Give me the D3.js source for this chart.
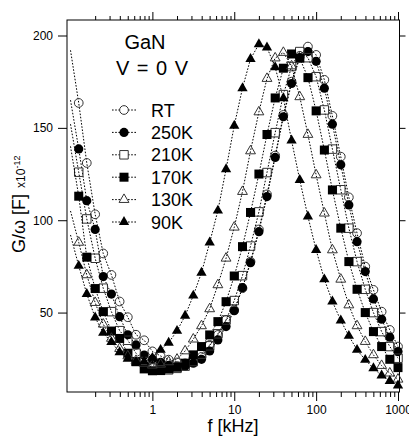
<!DOCTYPE html>
<html>
<head>
<meta charset="utf-8">
<script src="https://cdn.jsdelivr.net/npm/d3@7/dist/d3.min.js"></script>
<style>
body { margin:0; background:#fff; }
text { font-family: Arial, "Liberation Sans", sans-serif; fill:#000; }
</style>
</head>
<body>
<div id="chart"></div>
<script>
// frequency grid, kHz
var freq = [0.1,0.126,0.158,0.2,0.251,0.316,0.398,0.501,0.631,0.794,
            1,1.26,1.58,2,2.51,3.16,3.98,5.01,6.31,7.94,
            10,12.6,15.8,20,25.1,31.6,39.8,50.1,63.1,79.4,
            100,126,158,200,251,316,398,501,631,794,1000];

// G/omega values, x10^-12 F
var gRT   = [192,163.5,131,103.2,82,70.4,56,47.5,38,35,29,26.5,24.5,23,22.5,23.5,26,32.5,37.9,46,
             51.4,63.2,77.6,95,114,135,157,175,189,194,189.5,176,156.5,134.4,112.4,93,74.9,62.3,50.5,40.6,31.6];
var g250K = [165,138.6,110.6,95,69.5,60,47.8,38,32.5,27,24.7,23,21.5,21,21,22.6,24.7,29.2,35.2,42.4,
             51,63.5,77,93.8,112.8,134,156,174,188,191.3,186,171.5,152,130,108.3,88.4,72.2,57.4,46.4,36.7,28.9];
var g210K = [152,126,100.7,79.4,63.2,50.5,40.2,35,28,23.5,20,19,19,19.8,21,23.5,27.5,32,38.5,46,
             56.5,70,86,104.5,125.8,147.4,168,183.2,191.3,188,177.7,159.7,138.5,116.5,95.7,77.6,62.6,50,39.7,31.6,25.3];
var g170K = [140,113,80,63,50.5,40,36,28,23.4,19.5,18.5,18.6,19.5,20.4,22.6,27.1,31.6,37.9,45.1,55.9,
             69.8,85.7,104.2,125,146.4,166.2,182.3,190,187.7,177.2,159.2,138,116.4,95.7,77.6,62.6,50,39.7,31.6,24.7,20.2];
var g130K = [105,88,70.4,55.4,43.7,36,30.5,26.5,24,22.5,21.5,22,23.3,24.7,29.2,35.6,42.8,52,65,79.4,
             96.2,115.5,137.5,158.6,176.7,187.8,190.8,183.5,166.8,146.4,124.5,103.8,83.9,68,54.1,42.8,34.3,27.1,21.3,17.2,13.9];
var g90K  = [92,75.3,60.1,47.3,39,34,28.5,25,23,23.5,25.5,29.8,33.7,40.1,48.3,59.2,71.6,87.9,105.2,127.6,
             151.2,171.5,187.3,195.3,193.5,182.8,166,143.2,121.8,102,83.9,68,56,45.7,37.4,29.8,24.4,19.9,15.9,13,10.5];

var names  = ["RT","250K","210K","170K","130K","90K"];
var values = [gRT,g250K,g210K,g170K,g130K,g90K];
var shapes = ["circle","circle","square","square","triangle","triangle"];
var filled = [false,true,false,true,false,true];

var yTicks = [50,100,150,200];
var xLabels = [1,10,100,1000];

var width = 409, height = 442;
var pLeft = 67, pRight = 399.5, pTop = 20, pBottom = 392;

var svg = d3.select("#chart").append("svg")
    .attr("width", width)
    .attr("height", height);

var x = d3.scaleLog().domain([0.0906,1043]).range([pLeft,pRight]);
var y = d3.scaleLinear().domain([7,208.4]).range([pBottom,pTop]);

// log ticks 2..9 per decade
var allTicks = x.ticks().filter(function(d){ return d > 0.15; });
var isMajor = function(d){ return Math.abs(Math.log10(d) - Math.round(Math.log10(d))) < 1e-6; };
var fmt = function(d){ return isMajor(d) && xLabels.indexOf(Math.round(d)) >= 0 ? String(Math.round(d)) : ""; };

var gx = svg.append("g").attr("transform","translate(0,"+pBottom+")")
    .call(d3.axisBottom(x).tickValues(allTicks).tickFormat(fmt).tickSizeOuter(0).tickPadding(7));
gx.selectAll(".tick line").attr("y2", function(d){ return isMajor(d) ? 9 : 5; });

var gxt = svg.append("g").attr("transform","translate(0,"+pTop+")")
    .call(d3.axisTop(x).tickValues(allTicks).tickFormat("").tickSizeOuter(0));
gxt.selectAll(".tick line").attr("y2", function(d){ return isMajor(d) ? -8 : -4; });

var gy = svg.append("g").attr("transform","translate("+pLeft+",0)")
    .call(d3.axisLeft(y).tickValues(yTicks).tickSize(9).tickSizeOuter(0).tickPadding(5));
var gyr = svg.append("g").attr("transform","translate("+pRight+",0)")
    .call(d3.axisRight(y).tickValues(yTicks).tickFormat("").tickSize(6).tickSizeOuter(0));

svg.selectAll(".domain").remove();
svg.selectAll(".tick text").attr("font-size",12).attr("font-family","Arial, 'Liberation Sans', sans-serif");
svg.selectAll(".tick line").attr("stroke","#000");

svg.append("rect")
    .attr("x",pLeft).attr("y",pTop)
    .attr("width",pRight-pLeft).attr("height",pBottom-pTop)
    .attr("fill","none").attr("stroke","#000").attr("stroke-width",1);

var symbolOf = function(i) {
    if (shapes[i] == "circle") return d3.symbol().type(d3.symbolCircle).size(filled[i] ? 66 : 60)();
    if (shapes[i] == "square") return d3.symbol().type(d3.symbolSquare).size(filled[i] ? 81 : 72)();
    return d3.symbol().type(d3.symbolTriangle).size(filled[i] ? 46 : 42)();
};

var line = d3.line()
    .x(function(d,i){ return x(freq[i]); })
    .y(function(d){ return y(d); });

var plot = svg.append("g");

values.forEach(function(v,i) {
    var g = plot.append("g").attr("class","series");
    g.append("path")
        .attr("d", line(v))
        .attr("fill","none")
        .attr("stroke","#000")
        .attr("stroke-width",1)
        .attr("stroke-dasharray","1.6,1.6");
    // first point has no marker
    g.selectAll(".pt").data(v.slice(1))
      .enter().append("path")
        .attr("class","pt")
        .attr("d", symbolOf(i))
        .attr("transform", function(d,j){ return "translate("+x(freq[j+1])+","+y(d)+")"; })
        .attr("fill", filled[i] ? "#000" : "none")
        .attr("stroke", filled[i] ? "none" : "#333")
        .attr("stroke-width", 1);
});

// legend
var legend = svg.append("g");
names.forEach(function(n,i) {
    var cy = 110 + i*22.4;
    legend.append("line")
        .attr("x1",112).attr("x2",137).attr("y1",cy).attr("y2",cy)
        .attr("stroke","#000").attr("stroke-dasharray","1.6,1.6");
    legend.append("path")
        .attr("d", symbolOf(i))
        .attr("transform","translate(124,"+cy+")")
        .attr("fill", filled[i] ? "#000" : "#fff")
        .attr("stroke", filled[i] ? "none" : "#333");
    legend.append("text")
        .attr("x",151).attr("y",cy+6.5)
        .attr("font-size",18)
        .text(n);
});

svg.append("text").attr("x",145).attr("y",49)
    .attr("text-anchor","middle").attr("font-size",20).text("GaN");
svg.append("text").attr("x",152).attr("y",75)
    .attr("text-anchor","middle").attr("font-size",20).attr("word-spacing",2)
    .text("V = 0 V");

svg.append("text").attr("x",233).attr("y",432)
    .attr("text-anchor","middle").attr("font-size",18).text("f [kHz]");

var yl = svg.append("text").attr("transform","translate(25,253) rotate(-90)")
    .attr("font-size",18);
yl.append("tspan").text("G/\u03c9 [F]");
yl.append("tspan").attr("dx",6).attr("font-size",12).text("x10");
yl.append("tspan").attr("dy",-5).attr("font-size",9).text("-12");
</script>
</body>
</html>
